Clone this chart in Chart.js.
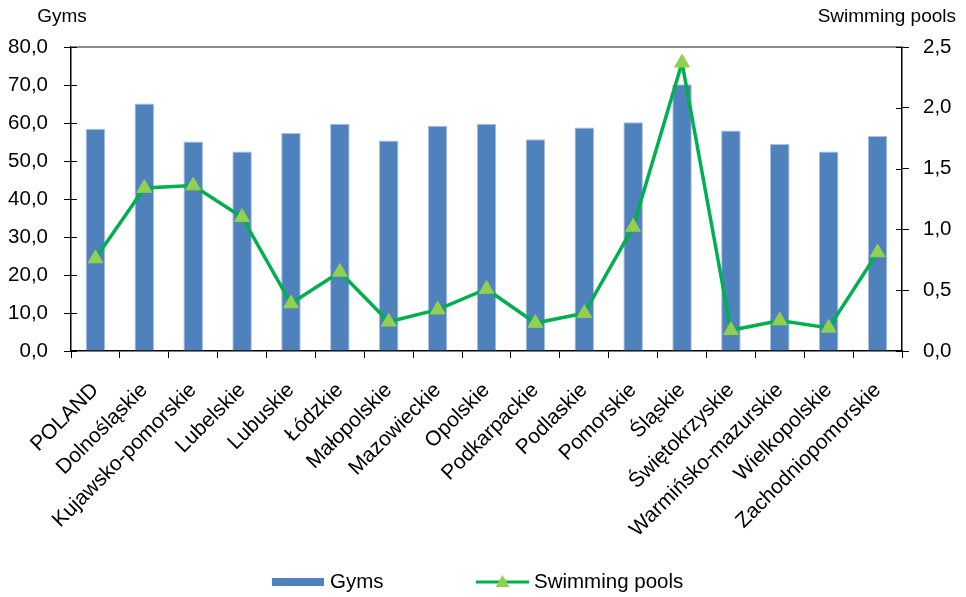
<!DOCTYPE html>
<html><head><meta charset="utf-8">
<script src="https://cdn.jsdelivr.net/npm/chart.js@4.4.1/dist/chart.umd.min.js"></script>
<style>html,body{margin:0;padding:0;background:#fff}#wrap{width:966px;height:597px}</style>
</head><body><div id="wrap"><canvas id="c" width="966" height="597"></canvas></div>
<script>
const categories = ['POLAND','Dolnośląskie','Kujawsko-pomorskie','Lubelskie','Lubuskie','Łódzkie','Małopolskie','Mazowieckie','Opolskie','Podkarpackie','Podlaskie','Pomorskie','Śląskie','Świętokrzyskie','Warmińsko-mazurskie','Wielkopolskie','Zachodniopomorskie'];
const gyms = [58.5, 65.1, 55.1, 52.5, 57.4, 59.8, 55.4, 59.3, 59.8, 55.7, 58.8, 60.2, 70.2, 58.0, 54.5, 52.5, 56.6];
const pools = [0.76, 1.34, 1.36, 1.10, 0.39, 0.65, 0.24, 0.34, 0.51, 0.23, 0.31, 1.02, 2.37, 0.17, 0.25, 0.19, 0.81];
const leftTicks = [0, 10, 20, 30, 40, 50, 60, 70, 80];
const rightTicks = [0, 0.5, 1.0, 1.5, 2.0, 2.5];
const leftTitle = 'Gyms';
const rightTitle = 'Swimming pools';

const FONT = "'Liberation Sans', Arial, sans-serif";
const BAR = '#4F81BD', LINE = '#00B050', MARK = '#92D050';

const fmt1 = v => Number(v).toFixed(1).replace('.', ',');

const extras = {
  id: 'extras',
  afterDraw(chart) {
    const ctx = chart.ctx, a = chart.chartArea;
    ctx.save();
    // top border
    ctx.strokeStyle = '#8c8c8c'; ctx.lineWidth = 2;
    ctx.beginPath(); ctx.moveTo(a.left, a.top); ctx.lineTo(a.right, a.top); ctx.stroke();
    // inner tick parts
    ctx.strokeStyle = '#000'; ctx.lineWidth = 1;
    const yl = chart.scales.y, yr = chart.scales.y1;
    yl.ticks.forEach(t => { const p = Math.round(yl.getPixelForValue(t.value)) + 0.5; ctx.beginPath(); ctx.moveTo(a.left, p); ctx.lineTo(a.left + 6, p); ctx.stroke(); });
    yr.ticks.forEach(t => { const p = Math.round(yr.getPixelForValue(t.value)) + 0.5; ctx.beginPath(); ctx.moveTo(a.right - 6, p); ctx.lineTo(a.right, p); ctx.stroke(); });
    // axis titles
    ctx.fillStyle = '#000'; ctx.font = '19px ' + FONT; ctx.textBaseline = 'middle';
    ctx.textAlign = 'center'; ctx.fillText(leftTitle, 62, 17);
    ctx.textAlign = 'right'; ctx.fillText(rightTitle, 956, 17);
    // legend
    const ly = 582;
    ctx.font = '20.5px ' + FONT;
    ctx.fillStyle = BAR; ctx.fillRect(272, ly - 4, 52, 8);
    ctx.fillStyle = '#000'; ctx.textAlign = 'left';
    ctx.fillText(chart.data.datasets[1].label, 330, ly);
    ctx.strokeStyle = LINE; ctx.lineWidth = 3;
    ctx.beginPath(); ctx.moveTo(476, ly); ctx.lineTo(529, ly); ctx.stroke();
    ctx.fillStyle = MARK;
    ctx.beginPath(); ctx.moveTo(502.5, ly - 7); ctx.lineTo(509.5, ly + 5); ctx.lineTo(495.5, ly + 5); ctx.closePath(); ctx.fill();
    ctx.fillStyle = '#000';
    ctx.fillText(chart.data.datasets[0].label, 534, ly);
    ctx.restore();
  }
};

new Chart(document.getElementById('c'), {
  data: {
    labels: categories,
    datasets: [
      { type: 'line', label: 'Swimming pools', data: pools, yAxisID: 'y1', order: 0,
        borderColor: LINE, borderWidth: 3.5, tension: 0,
        pointStyle: 'triangle', pointRadius: 8.5, pointHoverRadius: 8.5,
        pointBackgroundColor: MARK, pointBorderColor: MARK, pointBorderWidth: 1 },
      { type: 'bar', label: 'Gyms', data: gyms, yAxisID: 'y', order: 1,
        backgroundColor: BAR, borderColor: '#a9c0de', borderWidth: 1,
        barPercentage: 0.4, categoryPercentage: 1.0 }
    ]
  },
  options: {
    responsive: false, devicePixelRatio: 1, animation: false,
    layout: { padding: { top: 47, left: 0, right: 0, bottom: 0 } },
    plugins: { legend: { display: false }, tooltip: { enabled: false } },
    scales: {
      x: {
        type: 'category', offset: true,
        grid: { display: true, drawOnChartArea: false, drawTicks: true, tickLength: 7, color: '#000', offset: true },
        border: { display: true, color: '#000', width: 1.5 },
        ticks: { autoSkip: false, minRotation: 45, maxRotation: 45, padding: 20, color: '#000', font: { family: FONT, size: 21 } },
        afterFit: s => { s.height = 246; }
      },
      y: {
        position: 'left', min: 0, max: 80,
        afterBuildTicks: s => { s.ticks = leftTicks.map(v => ({ value: v })); },
        grid: { drawOnChartArea: false, drawTicks: true, tickLength: 7, color: '#000' },
        border: { display: true, color: '#000', width: 1.5 },
        ticks: { padding: 16, color: '#000', font: { family: FONT, size: 20.5 }, callback: v => fmt1(v) },
        afterFit: s => { s.width = 71; }
      },
      y1: {
        position: 'right', min: 0, max: 2.5,
        afterBuildTicks: s => { s.ticks = rightTicks.map(v => ({ value: v })); },
        grid: { drawOnChartArea: false, drawTicks: true, tickLength: 7, color: '#000' },
        border: { display: true, color: '#000', width: 1.5 },
        ticks: { padding: 14, color: '#000', font: { family: FONT, size: 20.5 }, callback: v => fmt1(v) },
        afterFit: s => { s.width = 64; }
      }
    }
  },
  plugins: [extras]
});
</script>
</body></html>
